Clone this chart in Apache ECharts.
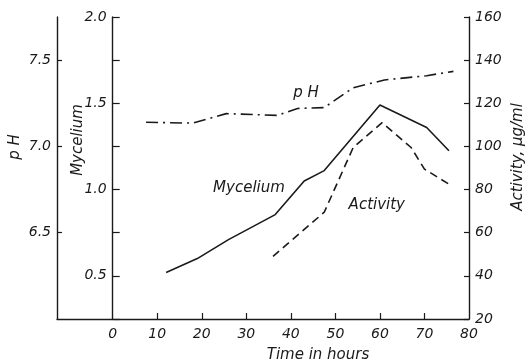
<!DOCTYPE html>
<html>
<head>
<meta charset="utf-8">
<script src="https://cdn.jsdelivr.net/npm/echarts@6/dist/echarts.min.js"></script>
<style>
  html, body { margin: 0; padding: 0; background: #fff; }
  #chart { width: 529px; height: 364px; }
</style>
</head>
<body>
<div id="chart"></div>
<script>
// time (h) / value pairs
var myceliumHours = [12, 19, 26, 36.5, 43, 47.5, 60, 70.5, 75.5];
var myceliumValues = [0.52, 0.60, 0.71, 0.855, 1.05, 1.11, 1.49, 1.36, 1.225];

var activityHours = [36, 47.5, 54, 60.5, 67, 70, 75.5];
var activityValues = [49, 69.5, 99.5, 111, 99.5, 89.5, 82.5];

var phHours = [7.5, 18, 25.5, 37, 41.5, 47.5, 54, 61, 70.5, 76.5];
var phValues = [7.14, 7.135, 7.19, 7.18, 7.22, 7.225, 7.34, 7.385, 7.41, 7.435];

var timeTicks = [10, 20, 30, 40, 50, 60, 70];
var timeLabels = [0, 10, 20, 30, 40, 50, 60, 70, 80];
var phTicks = [6.5, 7.0, 7.5];

function pairs(xs, ys) {
	return xs.map(function (x, i) { return [x, ys[i]]; });
}

var ink = '#1a1a1a';
var font = 'DejaVu Sans';

function textLabel(text, extra) {
	return Object.assign({
		show: true,
		position: 'inside',
		formatter: text,
		color: ink,
		fontFamily: font,
		fontStyle: 'italic',
		fontSize: 15
	}, extra || {});
}

var chart = echarts.init(document.getElementById('chart'), null, { renderer: 'canvas' });

var option = {
	backgroundColor: '#ffffff',
	animation: false,
	grid: { left: 57, right: 60, top: 17, bottom: 45 },
	xAxis: {
		type: 'value',
		min: -12.5,
		max: 80,
		axisLine: { onZero: false, lineStyle: { color: ink, width: 1.4 } },
		axisTick: { inside: true, length: 6, customValues: timeTicks, lineStyle: { color: ink, width: 1.2 } },
		axisLabel: {
			customValues: timeLabels, margin: 8, color: ink,
			fontFamily: font, fontStyle: 'italic', fontSize: 14
		},
		splitLine: { show: false }
	},
	yAxis: [{
		// mycelium, sits at t = 0
		type: 'value',
		position: 'left',
		offset: -55.7,
		min: 0.25,
		max: 2.0,
		interval: 0.25,
		axisLine: { show: true, onZero: false, lineStyle: { color: ink, width: 1.4 } },
		axisTick: { show: true, inside: true, length: 7, lineStyle: { color: ink, width: 1.2 } },
		axisLabel: {
			margin: 6, color: ink, fontFamily: font, fontStyle: 'italic', fontSize: 14,
			formatter: function (v) {
				return (Math.abs(v * 2 - Math.round(v * 2)) < 1e-6 && v > 0.3) ? v.toFixed(1) : '';
			}
		},
		splitLine: { show: false }
	}, {
		// pH
		type: 'value',
		position: 'left',
		offset: 0,
		min: 6.0,
		max: 7.75,
		axisLine: { show: true, onZero: false, lineStyle: { color: ink, width: 1.4 } },
		axisTick: { show: true, inside: true, length: 5, customValues: phTicks, lineStyle: { color: ink, width: 1.2 } },
		axisLabel: {
			customValues: phTicks, margin: 6, color: ink, fontFamily: font, fontStyle: 'italic', fontSize: 14,
			formatter: function (v) { return v.toFixed(1); }
		},
		splitLine: { show: false }
	}, {
		// activity
		type: 'value',
		position: 'right',
		min: 20,
		max: 160,
		interval: 20,
		axisLine: { show: true, onZero: false, lineStyle: { color: ink, width: 1.4 } },
		axisTick: { show: true, inside: true, length: 5, lineStyle: { color: ink, width: 1.2 } },
		axisLabel: { margin: 6, color: ink, fontFamily: font, fontStyle: 'italic', fontSize: 14 },
		splitLine: { show: false }
	}],
	series: [{
		name: 'Mycelium',
		type: 'line',
		yAxisIndex: 0,
		data: pairs(myceliumHours, myceliumValues),
		symbol: 'none',
		lineStyle: { color: ink, width: 1.6, type: 'solid' },
		markPoint: {
			symbol: 'circle', symbolSize: 1,
			itemStyle: { color: 'rgba(0,0,0,0)' },
			data: [{ coord: [30.6, 1.01], label: textLabel('Mycelium') }]
		}
	}, {
		name: 'Activity',
		type: 'line',
		yAxisIndex: 2,
		data: pairs(activityHours, activityValues),
		symbol: 'none',
		lineStyle: { color: ink, width: 1.6, type: [8, 5] },
		markPoint: {
			symbol: 'circle', symbolSize: 1,
			itemStyle: { color: 'rgba(0,0,0,0)' },
			data: [{ coord: [59.3, 72.6], label: textLabel('Activity') }]
		}
	}, {
		name: 'pH',
		type: 'line',
		yAxisIndex: 1,
		data: pairs(phHours, phValues),
		symbol: 'none',
		lineStyle: { color: ink, width: 1.6, type: [12, 5, 2, 5] },
		markPoint: {
			symbol: 'circle', symbolSize: 1,
			itemStyle: { color: 'rgba(0,0,0,0)' },
			data: [{ coord: [43.4, 7.31], label: textLabel('p H') }]
		}
	}],
	graphic: [{
		type: 'text', x: 15, y: 147, rotation: Math.PI / 2,
		style: { text: 'p H', fill: ink, font: 'italic 15px "DejaVu Sans"', align: 'center', verticalAlign: 'middle' }
	}, {
		type: 'text', x: 78, y: 140, rotation: Math.PI / 2,
		style: { text: 'Mycelium', fill: ink, font: 'italic 15px "DejaVu Sans"', align: 'center', verticalAlign: 'middle' }
	}, {
		type: 'text', x: 518, y: 157, rotation: Math.PI / 2,
		style: { text: 'Activity, μg/ml', fill: ink, font: 'italic 15px "DejaVu Sans"', align: 'center', verticalAlign: 'middle' }
	}, {
		type: 'text', x: 318, y: 355,
		style: { text: 'Time in hours', fill: ink, font: 'italic 15px "DejaVu Sans"', align: 'center', verticalAlign: 'middle' }
	}]
};

chart.setOption(option);
</script>
</body>
</html>
